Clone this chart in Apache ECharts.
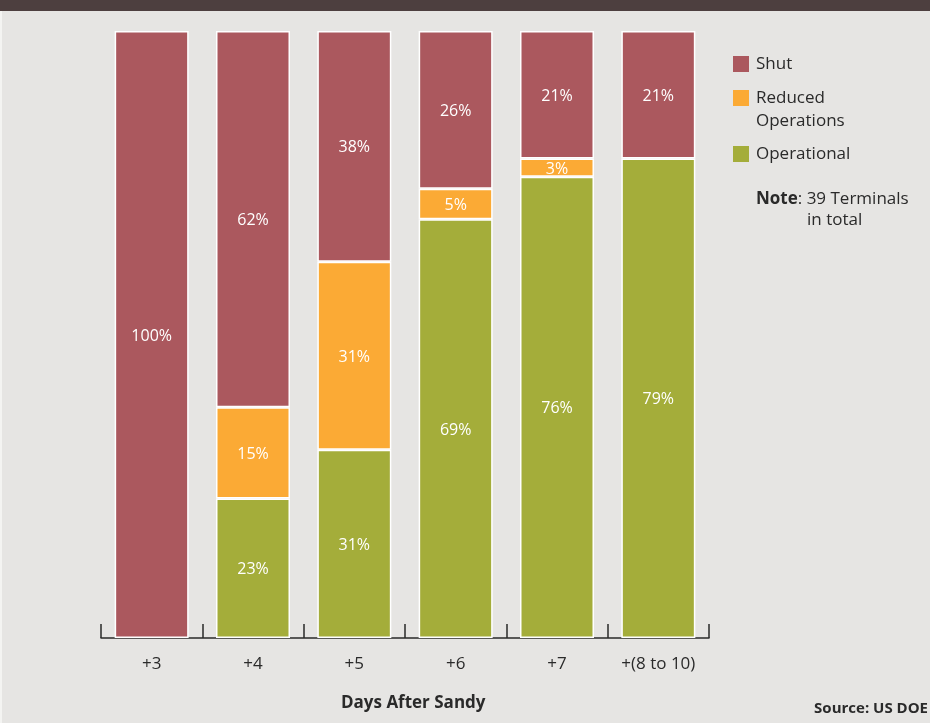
<!DOCTYPE html>
<html><head><meta charset="utf-8">
<script src="https://cdn.jsdelivr.net/npm/echarts@6/dist/echarts.min.js"></script>
<style>html,body{margin:0;padding:0;background:#e6e5e3}#c{width:930px;height:723px}</style>
</head><body><div id="c"></div>
<script>
var categories = ['+3', '+4', '+5', '+6', '+7', '+(8 to 10)'];
var operational = [null, 23, 31, 69, 76, 79];
var reduced = [null, 15, 31, 5, 3, null];
var shut = [100, 62, 38, 26, 21, 21];
var seriesNames = ['Shut', 'Reduced\nOperations', 'Operational'];
var colors = {shut: '#ab585e', reduced: '#fbaa35', operational: '#a4ad3a'};

var font = '"Open Sans", "Noto Sans", sans-serif';
var chart = echarts.init(document.getElementById('c'));
function seg(name, data, color) {
  return {
    name: name, type: 'bar', stack: 'total', data: data, barWidth: 74,
    itemStyle: {color: color, borderColor: '#ffffff', borderWidth: 1.5},
    label: {show: true, position: 'inside', offset: [0, 1.5], formatter: '{c}%', color: '#ffffff', fontSize: 16, fontFamily: font},
    emphasis: {disabled: true}
  };
}
var legendItems = [
  {text: seriesNames[0], color: colors.shut, y: 56},
  {text: seriesNames[1], color: colors.reduced, y: 90},
  {text: seriesNames[2], color: colors.operational, y: 146}
];
var graphics = [
  {type: 'rect', left: 0, top: 0, shape: {width: 930, height: 11}, style: {fill: '#4d3f3f'}},
  {type: 'rect', left: 0, top: 11, shape: {width: 2, height: 712}, style: {fill: '#f4f4f2'}}
];
legendItems.forEach(function (it) {
  graphics.push({type: 'rect', left: 733, top: it.y, shape: {width: 16, height: 16}, style: {fill: it.color}});
  graphics.push({type: 'text', left: 756, top: it.y - 3, style: {text: it.text, fill: '#2a2a2a', font: '17px ' + font, lineHeight: 23}});
});
graphics.push({type: 'text', left: 756, top: 188, style: {
  text: '{b|Note}: 39 Terminals',
  rich: {b: {fontWeight: 'bold', fontSize: 17, fontFamily: font, fill: '#2a2a2a'}},
  fill: '#2a2a2a', font: '17px ' + font, lineHeight: 22}});
graphics.push({type: 'text', left: 807, top: 212, style: {text: 'in total', fill: '#2a2a2a', font: '17px ' + font}});
graphics.push({type: 'text', left: 341, top: 695, style: {text: 'Days After Sandy', fill: '#2a2a2a', font: 'bold 17px ' + font}});
graphics.push({type: 'text', right: 2, top: 701, style: {text: 'Source: US DOE', fill: '#2a2a2a', font: 'bold 15px ' + font}});

chart.setOption({
  backgroundColor: '#e6e5e3',
  animation: false,
  grid: {left: 101, right: 221, top: 31, bottom: 85},
  xAxis: {
    type: 'category', data: categories, boundaryGap: true,
    axisLine: {lineStyle: {color: '#2a2a2a', width: 1.5}},
    axisTick: {show: true, inside: true, length: 14, interval: 0, lineStyle: {color: '#2a2a2a', width: 1.5}},
    axisLabel: {color: '#2a2a2a', fontSize: 17, fontFamily: font, margin: 18, interval: 0}
  },
  yAxis: {type: 'value', min: 0, max: 100, show: false},
  series: [
    seg('Operational', operational, colors.operational),
    seg('Reduced Operations', reduced, colors.reduced),
    seg('Shut', shut, colors.shut)
  ],
  graphic: graphics
});
</script></body></html>
